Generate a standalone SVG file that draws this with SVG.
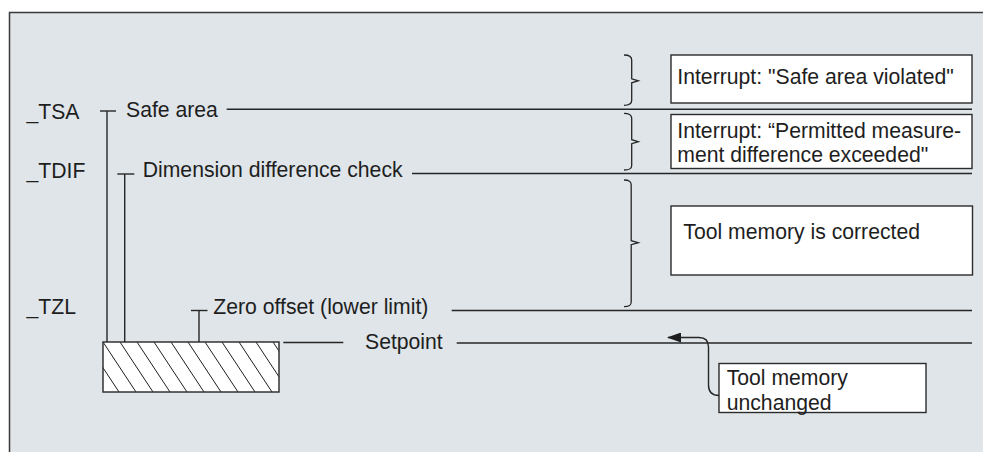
<svg xmlns="http://www.w3.org/2000/svg" width="983" height="452" viewBox="0 0 983 452">
  <style>
    .lbl { font-family: "Liberation Sans", Arial, sans-serif; font-size: 21.2px; fill: #1e1e1e; }
    .ln { stroke: #262626; stroke-width: 1.4; fill: none; }
    .box { fill: #ffffff; stroke: #2b2b2b; stroke-width: 1.4; }
    .brace { stroke: #262626; stroke-width: 1.3; fill: none; stroke-linejoin: miter; }
    .hatch { stroke: #1e1e1e; stroke-width: 1; }
  </style>
  <defs>
    <clipPath id="toolClip">
      <rect x="103" y="342" width="176" height="50"/>
    </clipPath>
    <!-- filled arrowhead, drawn pointing along +x, tip at refX -->
    <marker id="arrowHead" viewBox="0 0 14 10" refX="13" refY="5" markerWidth="14" markerHeight="10" markerUnits="userSpaceOnUse" orient="auto">
      <path d="M0,0 L14,5 L0,10 Z" fill="#1e1e1e"/>
    </marker>
  </defs>

  <!-- page background and frame -->
  <rect x="0" y="0" width="983" height="452" fill="#ffffff"/>
  <rect x="9.5" y="12.5" width="990" height="460" fill="#dfe5e9" stroke="#3a3a3a" stroke-width="1.5"/>

  <!-- level names -->
  <g id="levels">
    <text class="lbl" x="26.5" y="118.5">_TSA</text>
    <text class="lbl" x="26.5" y="177.5">_TDIF</text>
    <text class="lbl" x="26.5" y="314">_TZL</text>
  </g>

  <!-- tool tip block with hatching -->
  <g id="tool">
    <rect x="103" y="342" width="176" height="50" fill="#ffffff"/>
    <g clip-path="url(#toolClip)" class="hatch">
      <line x1="52" y1="342" x2="85" y2="392"/>
      <line x1="69" y1="342" x2="102" y2="392"/>
      <line x1="86" y1="342" x2="119" y2="392"/>
      <line x1="103" y1="342" x2="136" y2="392"/>
      <line x1="120" y1="342" x2="153" y2="392"/>
      <line x1="137" y1="342" x2="170" y2="392"/>
      <line x1="154" y1="342" x2="187" y2="392"/>
      <line x1="171" y1="342" x2="204" y2="392"/>
      <line x1="188" y1="342" x2="221" y2="392"/>
      <line x1="205" y1="342" x2="238" y2="392"/>
      <line x1="222" y1="342" x2="255" y2="392"/>
      <line x1="239" y1="342" x2="272" y2="392"/>
      <line x1="256" y1="342" x2="289" y2="392"/>
      <line x1="273" y1="342" x2="306" y2="392"/>
    </g>
    <rect x="103" y="342" width="176" height="50" fill="none" stroke="#333333" stroke-width="1.5"/>
  </g>

  <!-- level lines with labels -->
  <g id="safe-area">
    <text class="lbl" x="126" y="117">Safe area</text>
  </g>
  <g id="dimension-check">
    <text class="lbl" x="142.7" y="177">Dimension difference check</text>
  </g>
  <g id="zero-offset">
    <text class="lbl" x="213.3" y="314">Zero offset (lower limit)</text>
  </g>
  <g id="setpoint">
    <text class="lbl" x="365" y="348.8">Setpoint</text>
  </g>

  <!-- result boxes -->
  <g id="box-safe">
    <rect class="box" x="671" y="55" width="301" height="48"/>
    <text class="lbl" x="677.3" y="83.5">Interrupt: "Safe area violated"</text>
  </g>
  <g id="box-diff">
    <rect class="box" x="671" y="114.5" width="301" height="54"/>
    <text class="lbl" x="677.3" y="138">Interrupt: “Permitted measure-</text>
    <text class="lbl" x="677.3" y="161.5">ment difference exceeded"</text>
  </g>
  <g id="box-corrected">
    <rect class="box" x="671" y="206" width="301.5" height="69"/>
    <text class="lbl" x="683.3" y="239">Tool memory is corrected</text>
  </g>
  <g id="box-unchanged">
    <rect class="box" x="719" y="363.5" width="207" height="49"/>
    <text class="lbl" x="726.7" y="385">Tool memory</text>
    <text class="lbl" x="726.7" y="409.5">unchanged</text>
  </g>

  <!-- connectors -->
  <g id="connectors">
    <!-- _TSA bracket -->
    <line class="ln" x1="100" y1="111" x2="116" y2="111"/>
    <line class="ln" x1="107" y1="111" x2="107" y2="342"/>
    <!-- _TDIF bracket -->
    <line class="ln" x1="117.3" y1="174" x2="134.3" y2="174"/>
    <line class="ln" x1="124.7" y1="174" x2="124.7" y2="342"/>
    <!-- _TZL bracket -->
    <line class="ln" x1="191" y1="310.5" x2="207.5" y2="310.5"/>
    <line class="ln" x1="199" y1="310.5" x2="199" y2="342"/>

    <!-- horizontal level lines -->
    <line class="ln" x1="226.7" y1="109.3" x2="972" y2="109.3"/>
    <line class="ln" x1="412" y1="173.5" x2="972" y2="173.5"/>
    <line class="ln" x1="451.7" y1="310.5" x2="972" y2="310.5"/>
    <line class="ln" x1="283.3" y1="342.5" x2="343.3" y2="342.5"/>
    <line class="ln" x1="456.7" y1="343" x2="972" y2="343"/>

    <!-- braces grouping the zones -->
    <path class="brace" d="M624,55 C629.5,55 631.7,56.5 631.7,60 L631.7,78.8 L638.3,80.8 L631.7,82.8 L631.7,100.5 C631.7,104 629.5,105.3 624,105.3"/>
    <path class="brace" d="M624,113.3 C629.5,113.3 631.7,114.8 631.7,118.3 L631.7,139.7 L638.3,141.7 L631.7,143.7 L631.7,165.5 C631.7,169 629.5,170 624,170"/>
    <path class="brace" d="M624,180 C629.5,180 631.2,181.5 631.2,185 L631.2,240.7 L638.3,242.7 L631.2,244.7 L631.2,302 C631.2,305.5 629.5,306.7 624,306.7"/>

    <!-- pointer from "unchanged" box to setpoint -->
    <path class="ln" d="M719,395.5 C712,395.5 708.5,392 708.5,385 L708.5,347 C708.5,341 705,337.5 699,337.5 L668,337.5" marker-end="url(#arrowHead)"/>
  </g>
</svg>
